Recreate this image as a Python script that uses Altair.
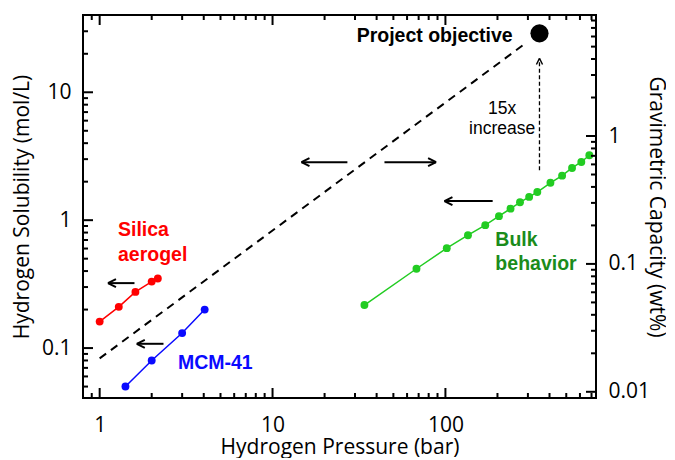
import math
import altair as alt
import pandas as pd

# ---------------- data ----------------
silica_p = [1.0, 1.29, 1.61, 2.0, 2.17]
silica_s = [0.161, 0.210, 0.275, 0.331, 0.350]

mcm_p = [1.41, 2.0, 3.0, 4.05]
mcm_s = [0.0501, 0.080, 0.131, 0.200]

bulk_p = [34.0, 68.0, 101.8, 135.0, 170.0, 204.0, 238.0, 270.0, 305.0, 340.0, 405.0, 473.0, 540.0, 611.0, 680.0]
bulk_s = [0.217, 0.417, 0.604, 0.763, 0.914, 1.075, 1.23, 1.38, 1.52, 1.66, 1.96, 2.23, 2.56, 2.85, 3.22]

objective_p = [350.0]
objective_s = [28.9]

ref_p = [1.0, 290.0]
ref_s = [0.083, 24.1]

increase_p = [350.0]
increase_s_from = [2.46]
increase_s_to = [18.4]

arrow_p_from = [27.1, 44.4, 187.6, 1.59, 2.34]
arrow_p_to = [14.7, 88.3, 98.7, 1.117, 1.64]
arrow_s = [2.84, 2.84, 1.41, 0.322, 0.108]

label_text = ["Silica", "aerogel", "MCM-41", "Bulk", "behavior"]
label_p = [1.276, 1.276, 2.836, 194.5, 194.5]
label_s = [0.835, 0.533, 0.0767, 0.698, 0.453]
label_series = ["silica", "silica", "mcm", "bulk", "bulk"]

objective_text = ["Project objective"]
objective_text_p = [245.0]
objective_text_s = [27.4]

increase_text = ["15x", "increase"]
increase_text_p = [212.7, 212.7]
increase_text_s = [7.38, 5.12]

x_domain = [0.801, 743.0]
y_domain = [0.0407, 40.2]
x_major = [1, 10, 100]
x_minor = [0.9, 2, 3, 4, 5, 6, 7, 8, 9, 20, 30, 40, 50, 60, 70, 80, 90,
           200, 300, 400, 500, 600, 700]
y_major = [0.1, 1, 10]
y_minor = [0.05, 0.06, 0.07, 0.08, 0.09, 0.2, 0.3, 0.4, 0.5, 0.6, 0.7, 0.8, 0.9,
           2, 3, 4, 5, 6, 7, 8, 9, 20, 30]
mol_per_wt = 4.55  # mol/L corresponding to 1 wt%
wt_major = [0.01, 0.1, 1]
wt_minor = [0.02, 0.03, 0.04, 0.05, 0.06, 0.07, 0.08, 0.09,
            0.2, 0.3, 0.4, 0.5, 0.6, 0.7, 0.8, 0.9, 2, 3, 4, 5, 6, 7, 8]

# ---------------- styling ----------------
RED = "#ff0000"
BLUE = "#0a0aff"
GREEN = "#22cc22"
GREEN_TXT = "#1b8c1b"
series_color = {"silica": RED, "mcm": BLUE, "bulk": GREEN}
text_color = {"silica": RED, "mcm": BLUE, "bulk": GREEN_TXT}

W, H = 513, 383
FONT = "Open Sans"
ANN = "Liberation Sans"
LEFT_HEAD = "M 0 0 L 1 -0.5 M 0 0 L 1 0.5"
RIGHT_HEAD = "M 0 0 L -1 -0.5 M 0 0 L -1 0.5"
UP_HEAD = "M 0 0 L -0.5 1 M 0 0 L 0.5 1"
MAJOR, MINOR = 10, 5  # tick lengths in pixels

xs = alt.Scale(type="log", domain=x_domain, nice=False)
ys = alt.Scale(type="log", domain=y_domain, nice=False)

# pixels per decade on each log axis (to express tick lengths in data units)
X_PX_DEC = W / math.log10(x_domain[1] / x_domain[0])
Y_PX_DEC = H / math.log10(y_domain[1] / y_domain[0])


def to_mol(ws):
    return [w * mol_per_wt for w in ws]


x_label_axis = alt.Axis(
    orient="bottom", values=x_major, format="~g", ticks=False,
    domain=False, grid=False, labelFont=FONT, labelFontSize=21,
    labelColor="black", labelPadding=16, labelFlush=False,
    title="Hydrogen Pressure (bar)", titleFont=FONT, titleFontSize=21,
    titleFontWeight="normal", titleColor="black", titleBaseline="alphabetic",
    titleAlign="center", titleX=W / 2, titleY=55)

y_label_axis = alt.Axis(
    orient="left", values=y_major, format="~g", ticks=False,
    domain=False, grid=False, labelFont=FONT, labelFontSize=21,
    labelColor="black", labelPadding=12, labelFlush=False,
    title="Hydrogen Solubility (mol/L)", titleFont=FONT, titleFontSize=21,
    titleFontWeight="normal", titleColor="black", titleBaseline="alphabetic",
    titleAlign="center", titleAngle=270, titleX=-55, titleY=H / 2)

wt_label_axis = alt.Axis(
    orient="right", values=to_mol(wt_major),
    labelExpr=f"format(datum.value/{mol_per_wt}, '~g')", ticks=False,
    domain=False, grid=False, labelFont=FONT, labelFontSize=21,
    labelColor="black", labelPadding=12, labelFlush=False,
    title="Gravimetric Capacity (wt%)", titleFont=FONT, titleFontSize=21,
    titleFontWeight="normal", titleColor="black", titleBaseline="alphabetic",
    titleAlign="center", titleAngle=90, titleX=53, titleY=H / 2)


def xy(xaxis=None, yaxis=None):
    return dict(
        x=alt.X("p:Q", scale=xs, axis=xaxis),
        y=alt.Y("s:Q", scale=ys, axis=yaxis),
    )


def x_edge_ticks(values, length, edge_value, inward):
    # inward ticks on a horizontal frame edge, drawn as short rules
    other = edge_value * 10 ** (inward * length / Y_PX_DEC)
    df = pd.DataFrame({"p": values, "s": [edge_value] * len(values),
                       "s2": [other] * len(values)})
    return alt.Chart(df).mark_rule(color="black", strokeWidth=2, opacity=1).encode(
        **xy(), y2="s2:Q")


def y_edge_ticks(values, length, edge_value, inward):
    # inward ticks on a vertical frame edge, drawn as short rules
    other = edge_value * 10 ** (inward * length / X_PX_DEC)
    df = pd.DataFrame({"s": values, "p": [edge_value] * len(values),
                       "p2": [other] * len(values)})
    return alt.Chart(df).mark_rule(color="black", strokeWidth=2, opacity=1).encode(
        **xy(), x2="p2:Q")


silica_df = pd.DataFrame({"p": silica_p, "s": silica_s})
mcm_df = pd.DataFrame({"p": mcm_p, "s": mcm_s})
bulk_df = pd.DataFrame({"p": bulk_p, "s": bulk_s})
ref_df = pd.DataFrame({"p": ref_p, "s": ref_s})

points_df = pd.concat([
    silica_df.assign(c=series_color["silica"]),
    mcm_df.assign(c=series_color["mcm"]),
    bulk_df.assign(c=series_color["bulk"]),
])

ref_layer = alt.Chart(ref_df).mark_line(
    color="black", strokeWidth=2, strokeDash=[8, 6]).encode(
    **xy(x_label_axis, y_label_axis))

silica_line = alt.Chart(silica_df).mark_line(color=RED, strokeWidth=1.5).encode(**xy())
mcm_line = alt.Chart(mcm_df).mark_line(color=BLUE, strokeWidth=1.5).encode(**xy())
bulk_line = alt.Chart(bulk_df).mark_line(color=GREEN, strokeWidth=1.5).encode(
    **xy(None, wt_label_axis))

points = alt.Chart(points_df).mark_circle(size=62, opacity=1).encode(
    **xy(), color=alt.Color("c:N", scale=None))

objective = alt.Chart(pd.DataFrame({"p": objective_p, "s": objective_s})).mark_circle(
    size=330, opacity=1, color="black").encode(**xy())

arrows_df = pd.DataFrame({"p": arrow_p_from, "p2": arrow_p_to, "s": arrow_s})
arrows = alt.Chart(arrows_df).mark_rule(color="black", strokeWidth=2).encode(
    **xy(), x2="p2:Q")

heads_df = pd.DataFrame({
    "p": arrow_p_to, "s": arrow_s,
    "shape": [LEFT_HEAD if t < f else RIGHT_HEAD for f, t in zip(arrow_p_from, arrow_p_to)],
})
heads = alt.Chart(heads_df).mark_point(
    filled=False, color="black", opacity=1, size=256, strokeWidth=2).encode(
    **xy(), shape=alt.Shape("shape:N", scale=None))

inc_df = pd.DataFrame({"p": increase_p, "s": increase_s_from, "s2": increase_s_to})
inc_rule = alt.Chart(inc_df).mark_rule(
    color="black", strokeWidth=1.3, strokeDash=[4, 2.5]).encode(**xy(), y2="s2:Q")
inc_head = alt.Chart(pd.DataFrame({"p": increase_p, "s": increase_s_to})).mark_point(
    filled=False, color="black", opacity=1, size=150, strokeWidth=1.4,
    shape=UP_HEAD).encode(**xy())

labels_df = pd.DataFrame({"p": label_p, "s": label_s, "t": label_text,
                          "c": [text_color[k] for k in label_series]})
labels = alt.Chart(labels_df).mark_text(
    font=ANN, fontSize=19.5, fontWeight="bold", align="left", baseline="middle").encode(
    **xy(), text="t:N", color=alt.Color("c:N", scale=None))

obj_text = alt.Chart(pd.DataFrame({"p": objective_text_p, "s": objective_text_s,
                                   "t": objective_text})).mark_text(
    font=ANN, fontSize=19.5, fontWeight="bold", align="right", baseline="middle",
    color="black").encode(**xy(), text="t:N")

inc_text = alt.Chart(pd.DataFrame({"p": increase_text_p, "s": increase_text_s,
                                   "t": increase_text})).mark_text(
    font=ANN, fontSize=17.5, align="center", baseline="middle",
    color="black").encode(**xy(), text="t:N")

frame_ticks = [
    x_edge_ticks(x_major, MAJOR, y_domain[0], 1), x_edge_ticks(x_minor, MINOR, y_domain[0], 1),
    x_edge_ticks(x_major, MAJOR, y_domain[1], -1), x_edge_ticks(x_minor, MINOR, y_domain[1], -1),
    y_edge_ticks(y_major, MAJOR, x_domain[0], 1), y_edge_ticks(y_minor, MINOR, x_domain[0], 1),
    y_edge_ticks(to_mol(wt_major), MAJOR, x_domain[1], -1),
    y_edge_ticks(to_mol(wt_minor), MINOR, x_domain[1], -1),
]

chart = alt.layer(
    ref_layer, silica_line, mcm_line, bulk_line, points, objective,
    arrows, heads, inc_rule, inc_head, labels, obj_text, inc_text, *frame_ticks,
).resolve_axis(x="independent", y="independent").properties(
    width=W, height=H,
    autosize=alt.AutoSizeParams(type="none"),
    padding={"left": 75, "top": 7, "right": 70, "bottom": 60},
).configure_view(stroke="black", strokeWidth=2)

chart.save("out.html", embed_options={"renderer": "svg", "actions": False})
